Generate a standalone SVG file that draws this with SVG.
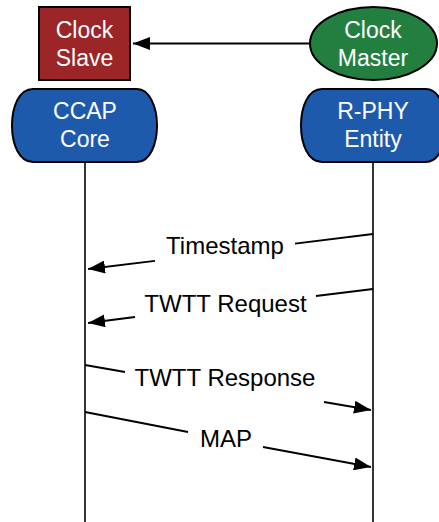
<svg xmlns="http://www.w3.org/2000/svg" width="439" height="522" viewBox="0 0 439 522">
<defs>
<marker id="ah" markerUnits="userSpaceOnUse" markerWidth="18" markerHeight="13" refX="17" refY="6.5" orient="auto">
<path d="M0,0 L17,6.5 L0,13 Z" fill="#000"/>
</marker>
<style>
.lbl{font-family:"Liberation Sans",Arial,sans-serif;font-size:24px;text-anchor:middle;fill:#000}
.nt{font-family:"Liberation Sans",Arial,sans-serif;font-size:23px;text-anchor:middle;fill:#fff}
.ln{stroke:#000;stroke-width:1.8;fill:none}
.life{stroke:#000;stroke-width:1.6;fill:none}
.box{stroke:#000;stroke-width:2}
</style>
</defs>
<g id="lifelines">
<line class="life" x1="85" y1="162" x2="85" y2="522"/>
<line class="life" x1="373" y1="162" x2="373" y2="522"/>
</g>
<g id="clock-slave">
<rect class="box" x="39" y="7" width="91" height="73" fill="#9b2527"/>
<text class="nt" x="84.5" y="38">Clock</text>
<text class="nt" x="84.5" y="66">Slave</text>
</g>
<g id="clock-master">
<ellipse class="box" cx="373.5" cy="43.5" rx="63.5" ry="36.5" fill="#237f40"/>
<text class="nt" x="373" y="38">Clock</text>
<text class="nt" x="373" y="66">Master</text>
</g>
<g id="ccap-core">
<path class="box" fill="#1e5aab" d="M33,89 L137,89 C150,89 157,108 157,125.5 C157,144 150,162 137,162 L33,162 C19,162 12,144 12,125.5 C12,107 19,89 33,89 Z"/>
<text class="nt" x="85" y="119">CCAP</text>
<text class="nt" x="85" y="147">Core</text>
</g>
<g id="rphy-entity">
<path class="box" fill="#1e5aab" d="M322,89 L426,89 C439,89 446,108 446,125.5 C446,144 439,162 426,162 L322,162 C308,162 301,144 301,125.5 C301,107 308,89 322,89 Z"/>
<text class="nt" x="373" y="119">R-PHY</text>
<text class="nt" x="373" y="147">Entity</text>
</g>
<g id="connectors">
<line class="ln" x1="310" y1="43.5" x2="133" y2="43.5" marker-end="url(#ah)"/>
<line class="ln" x1="373" y1="234" x2="295" y2="243.6"/>
<line class="ln" x1="155" y1="260.8" x2="88" y2="269" marker-end="url(#ah)"/>
<line class="ln" x1="373" y1="289" x2="316" y2="296"/>
<line class="ln" x1="135" y1="317" x2="88" y2="323" marker-end="url(#ah)"/>
<line class="ln" x1="85" y1="365" x2="125" y2="372"/>
<line class="ln" x1="324" y1="402" x2="371" y2="410" marker-end="url(#ah)"/>
<line class="ln" x1="85" y1="412" x2="188" y2="432"/>
<line class="ln" x1="263" y1="447" x2="371" y2="467" marker-end="url(#ah)"/>
</g>
<g id="labels">
<text class="lbl" x="225" y="254">Timestamp</text>
<text class="lbl" x="225.5" y="312">TWTT Request</text>
<text class="lbl" x="225" y="386">TWTT Response</text>
<text class="lbl" x="226" y="447">MAP</text>
</g>
</svg>
